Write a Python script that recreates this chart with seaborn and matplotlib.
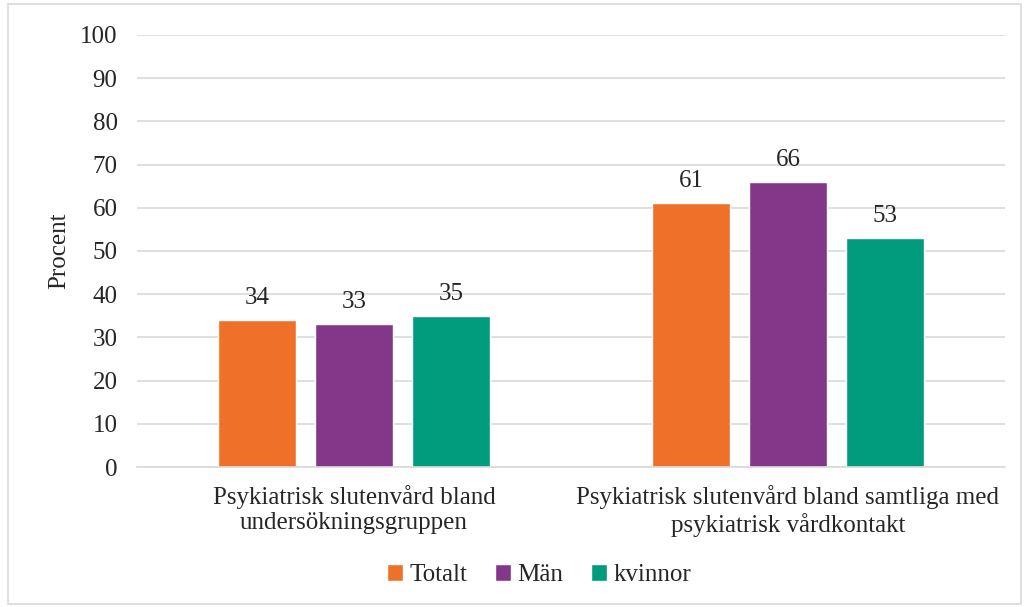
import matplotlib
matplotlib.use("Agg")
import matplotlib.pyplot as plt
import pandas as pd
import seaborn as sns
from matplotlib.patches import Rectangle

categories = [
    "Psykiatrisk slutenvård bland\nundersökningsgruppen",
    "Psykiatrisk slutenvård bland samtliga med\npsykiatrisk vårdkontakt",
]
groups = ["Totalt", "Män", "kvinnor"]
totalt = [34, 61]
man = [33, 66]
kvinnor = [35, 53]
yticks = list(range(0, 101, 10))

colors = ["#EF7129", "#833789", "#009C7D"]

rows = []
for g, vals in zip(groups, [totalt, man, kvinnor]):
    for c, v in zip(categories, vals):
        rows.append({"kategori": c, "grupp": g, "procent": v})
df = pd.DataFrame(rows)

sns.set_style("white")
plt.rcParams["font.family"] = ["Liberation Serif", "DejaVu Serif"]
FS = 18

fig = plt.figure(figsize=(10.27, 6.07), dpi=100)
ax = fig.add_axes([137 / 1027, 1 - 467 / 607, 868 / 1027, 432 / 607])

sns.barplot(data=df, x="kategori", y="procent", hue="grupp", order=categories,
            hue_order=groups, palette=colors, width=0.67, gap=0.2,
            saturation=1, ax=ax, legend=True)

for cont in ax.containers:
    ax.bar_label(cont, fmt="%d", padding=8, fontsize=FS)

ax.set_ylim(0, 100)
ax.set_xlim(-0.5, 1.5)
ax.set_yticks(yticks)
ax.tick_params(axis="y", labelsize=FS, length=0, pad=14)
ax.tick_params(axis="x", labelsize=FS, length=0, pad=13)
ax.yaxis.grid(True, color="#D9D9D9", linewidth=1.2)
ax.set_axisbelow(True)
for s in ["top", "right", "left"]:
    ax.spines[s].set_visible(False)
ax.spines["bottom"].set_color("#D9D9D9")
ax.spines["bottom"].set_linewidth(1.2)
ax.set_xlabel("")
ax.set_ylabel("Procent", fontsize=FS)
ax.yaxis.set_label_coords(-67 / 868, 0.5)

handles, labels = ax.get_legend_handles_labels()
ax.legend(handles, labels, loc="center", bbox_to_anchor=(539 / 1027, 1 - 575 / 607),
          bbox_transform=fig.transFigure, ncol=3, frameon=False, fontsize=FS,
          handlelength=0.65, handleheight=0.65, handletextpad=0.25, columnspacing=1.1)

fig.patches.append(Rectangle((8 / 1027, 3 / 607), 1013 / 1027, 600 / 607,
                             transform=fig.transFigure, fill=False,
                             edgecolor="#D9D9D9", linewidth=1.2))

fig.savefig("out.png", dpi=100)
